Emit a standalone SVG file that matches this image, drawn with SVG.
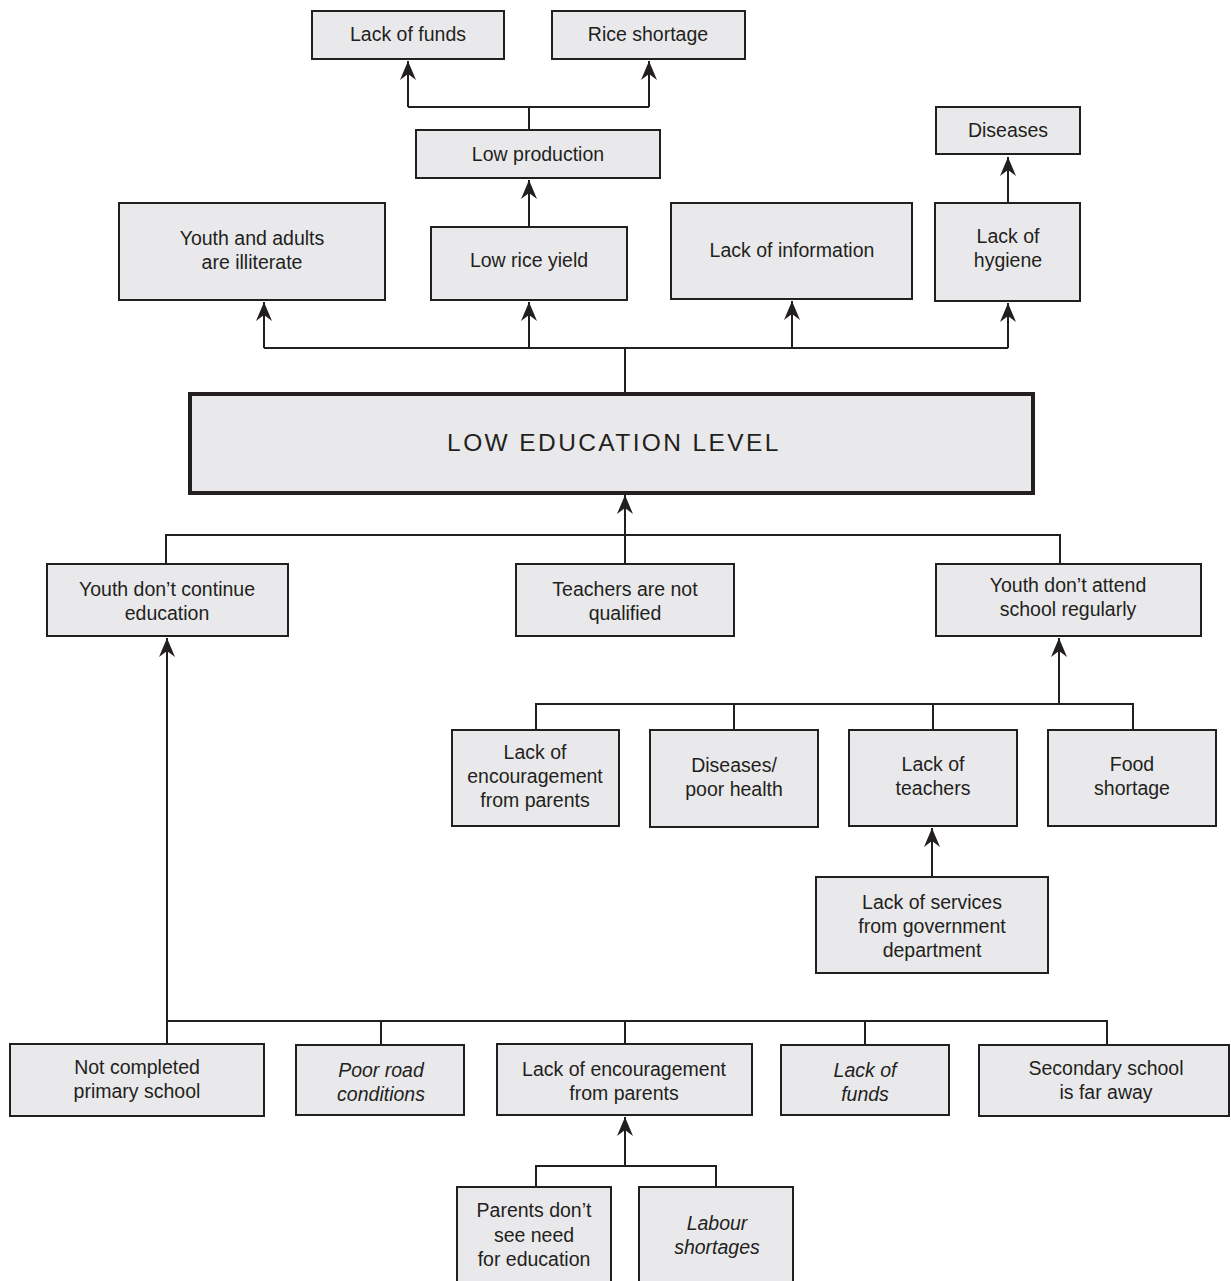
<svg xmlns="http://www.w3.org/2000/svg" width="1231" height="1281" viewBox="0 0 1231 1281">
<style>
.box{fill:#e9e9eb;stroke:#231f20;stroke-width:2}
.main{fill:#e9e9eb;stroke:#231f20;stroke-width:4}
text{font-family:"Liberation Sans",Arial,sans-serif;font-size:19.5px;fill:#231f20;text-anchor:middle}
.it{font-style:italic}
.title{font-size:24.5px;letter-spacing:2.4px}
.ln{fill:none;stroke:#231f20;stroke-width:2}
.ar{fill:none;stroke:#231f20;stroke-width:2;marker-end:url(#ah)}
</style>
<defs>
<marker id="ah" viewBox="0 0 19 16" refX="19" refY="8" markerWidth="19" markerHeight="16" markerUnits="userSpaceOnUse" orient="auto">
<path d="M0,0 L19,8 L0,16 L6,8 Z" fill="#231f20"/>
</marker>
</defs>
<rect width="1231" height="1281" fill="#ffffff"/>

<g id="connectors">
<path class="ln" d="M529,130 V107 M408,107 H649"/>
<path class="ar" d="M408,107 V61"/>
<path class="ar" d="M649,107 V61"/>
<path class="ar" d="M529,227 V180"/>
<path class="ar" d="M1008,203 V157"/>
<path class="ln" d="M625,394 V348 M264,348 H1008"/>
<path class="ar" d="M264,348 V302"/>
<path class="ar" d="M529,348 V302"/>
<path class="ar" d="M792,348 V301"/>
<path class="ar" d="M1008,348 V303"/>
<path class="ln" d="M166,564 V535 H1060 V564"/>
<path class="ar" d="M625,564 V495"/>
<path class="ln" d="M536,730 V704 H1133 V730 M734,704 V730 M933,704 V730"/>
<path class="ar" d="M1059,704 V638"/>
<path class="ar" d="M932,877 V828"/>
<path class="ln" d="M167,1044 V1021 H1107 V1045 M381,1021 V1045 M625,1021 V1044 M865,1021 V1045"/>
<path class="ar" d="M167,1021 V638"/>
<path class="ln" d="M536,1187 V1166 H716 V1187"/>
<path class="ar" d="M625,1166 V1117"/>
</g>

<g id="n-lack-funds-top"><rect class="box" x="312" y="11" width="192" height="48"/><text x="408" y="41">Lack of funds</text></g>
<g id="n-rice-shortage"><rect class="box" x="552" y="11" width="193" height="48"/><text x="648" y="41">Rice shortage</text></g>
<g id="n-low-production"><rect class="box" x="416" y="130" width="244" height="48"/><text x="538" y="161">Low production</text></g>
<g id="n-diseases"><rect class="box" x="936" y="107" width="144" height="47"/><text x="1008" y="137">Diseases</text></g>

<g id="n-illiterate"><rect class="box" x="119" y="203" width="266" height="97"/><text x="252" y="245">Youth and adults</text><text x="252" y="269">are illiterate</text></g>
<g id="n-low-rice-yield"><rect class="box" x="431" y="227" width="196" height="73"/><text x="529" y="267">Low rice yield</text></g>
<g id="n-lack-information"><rect class="box" x="671" y="203" width="241" height="96"/><text x="792" y="257">Lack of information</text></g>
<g id="n-lack-hygiene"><rect class="box" x="935" y="203" width="145" height="98"/><text x="1008" y="243">Lack of</text><text x="1008" y="267">hygiene</text></g>

<g id="n-main"><rect class="main" x="190" y="394" width="843" height="99"/><text class="title" x="614" y="451">LOW EDUCATION LEVEL</text></g>

<g id="n-youth-continue"><rect class="box" x="47" y="564" width="241" height="72"/><text x="167" y="596">Youth don’t continue</text><text x="167" y="620">education</text></g>
<g id="n-teachers-qualified"><rect class="box" x="516" y="564" width="218" height="72"/><text x="625" y="596">Teachers are not</text><text x="625" y="620">qualified</text></g>
<g id="n-youth-attend"><rect class="box" x="936" y="564" width="265" height="72"/><text x="1068" y="592">Youth don’t attend</text><text x="1068" y="616">school regularly</text></g>

<g id="n-encouragement-1"><rect class="box" x="452" y="730" width="167" height="96"/><text x="535" y="759">Lack of</text><text x="535" y="783">encouragement</text><text x="535" y="807">from parents</text></g>
<g id="n-diseases-health"><rect class="box" x="650" y="730" width="168" height="97"/><text x="734" y="772">Diseases/</text><text x="734" y="796">poor health</text></g>
<g id="n-lack-teachers"><rect class="box" x="849" y="730" width="168" height="96"/><text x="933" y="771">Lack of</text><text x="933" y="795">teachers</text></g>
<g id="n-food-shortage"><rect class="box" x="1048" y="730" width="168" height="96"/><text x="1132" y="771">Food</text><text x="1132" y="795">shortage</text></g>
<g id="n-lack-services"><rect class="box" x="816" y="877" width="232" height="96"/><text x="932" y="909">Lack of services</text><text x="932" y="933">from government</text><text x="932" y="957">department</text></g>

<g id="n-not-completed"><rect class="box" x="10" y="1044" width="254" height="72"/><text x="137" y="1074">Not completed</text><text x="137" y="1098">primary school</text></g>
<g id="n-poor-road"><rect class="box" x="296" y="1045" width="168" height="70"/><text class="it" x="381" y="1077">Poor road</text><text class="it" x="381" y="1101">conditions</text></g>
<g id="n-encouragement-2"><rect class="box" x="497" y="1044" width="255" height="71"/><text x="624" y="1076">Lack of encouragement</text><text x="624" y="1100">from parents</text></g>
<g id="n-lack-funds-bottom"><rect class="box" x="781" y="1045" width="168" height="70"/><text class="it" x="865" y="1077">Lack of</text><text class="it" x="865" y="1101">funds</text></g>
<g id="n-secondary-far"><rect class="box" x="979" y="1045" width="250" height="71"/><text x="1106" y="1075">Secondary school</text><text x="1106" y="1099">is far away</text></g>

<g id="n-parents-need"><rect class="box" x="457" y="1187" width="154" height="110"/><text x="534" y="1217">Parents don’t</text><text x="534" y="1242">see need</text><text x="534" y="1266">for education</text></g>
<g id="n-labour-shortages"><rect class="box" x="639" y="1187" width="154" height="110"/><text class="it" x="717" y="1230">Labour</text><text class="it" x="717" y="1254">shortages</text></g>
</svg>
